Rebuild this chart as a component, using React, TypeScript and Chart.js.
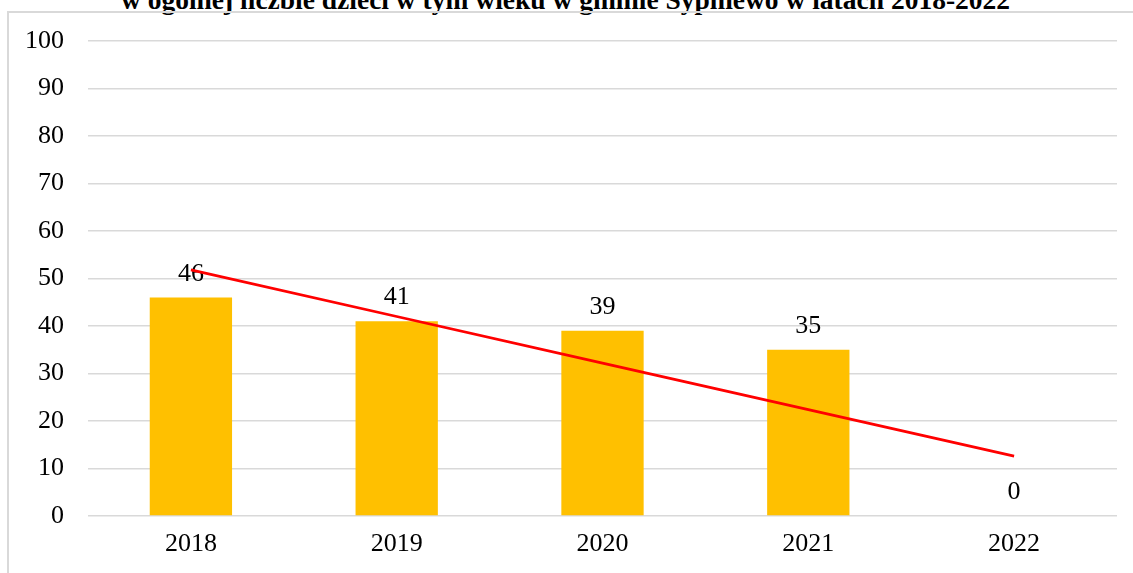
import React, { useEffect, useRef } from "react";
import { Chart, registerables } from "chart.js";

Chart.register(...registerables);

const TITLE = "w ogólnej liczbie dzieci w tym wieku w gminie Sypniewo w latach 2018-2022";
const years = ["2018", "2019", "2020", "2021", "2022"];
const values = [46, 41, 39, 35, 0];
const trend = [51.8, 42, 32.2, 22.4, 12.6];
const yTicks = [0, 10, 20, 30, 40, 50, 60, 70, 80, 90, 100];

const FONT = "'Liberation Serif', 'Times New Roman', serif";

const labelPlugin = {
  id: "barLabels",
  afterDatasetDraw(chart: any, args: any) {
    const ds = chart.data.datasets[args.index];
    if (ds.type !== "bar") return;
    const ctx = chart.ctx;
    ctx.save();
    ctx.font = `26px ${FONT}`;
    ctx.fillStyle = "#000";
    ctx.textAlign = "center";
    ctx.textBaseline = "alphabetic";
    args.meta.data.forEach((el: any, i: number) => {
      ctx.fillText(String(ds.data[i]), el.x, el.y - 17);
    });
    ctx.restore();
  },
};

export default function App() {
  const ref = useRef<HTMLCanvasElement>(null);
  useEffect(() => {
    if (!ref.current) return;
    const chart = new Chart(ref.current, {
      type: "bar",
      data: {
        labels: years,
        datasets: [
          {
            type: "line",
            label: "Trend",
            data: trend,
            borderColor: "#FF0000",
            borderWidth: 2.75,
            pointRadius: 0,
            fill: false,
            tension: 0,
          } as any,
          {
            type: "bar",
            label: "Wartość",
            data: values,
            backgroundColor: "#FFC000",
            barPercentage: 0.4,
            categoryPercentage: 1,
          } as any,
        ],
      },
      options: {
        animation: false,
        responsive: true,
        maintainAspectRatio: false,
        layout: { padding: { left: 0, right: 16, top: 41, bottom: 0 } },
        plugins: {
          legend: { display: false },
          tooltip: { enabled: false },
          title: { display: false },
        },
        scales: {
          x: {
            grid: { display: false, drawTicks: false },
            border: { display: false },
            ticks: { color: "#000", font: { family: FONT, size: 26 }, padding: 13 },
            afterFit: (s: any) => {
              s.height = 57;
            },
          },
          y: {
            min: 0,
            max: 100,
            afterBuildTicks: (s: any) => {
              s.ticks = yTicks.map((v) => ({ value: v }));
            },
            grid: { color: "#d9d9d9", lineWidth: 1.5, drawTicks: false },
            border: { display: false },
            ticks: { color: "#000", font: { family: FONT, size: 26 }, padding: 24 },
            afterFit: (s: any) => {
              s.width = 88;
            },
          },
        },
      },
      plugins: [labelPlugin],
    });
    return () => chart.destroy();
  }, []);

  return (
    <div style={{ position: "fixed", left: 0, top: 0, width: 1133, height: 573, overflow: "hidden", background: "#fff" }}>
      <div
        style={{
          position: "absolute",
          left: 0,
          width: 1131,
          top: -14,
          textAlign: "center",
          font: `bold 27.5px ${FONT}`,
          lineHeight: "27.5px",
          whiteSpace: "nowrap",
          color: "#000",
        }}
      >
        {TITLE}
      </div>
      <div
        style={{
          position: "absolute",
          left: 7,
          top: 11,
          width: 1200,
          height: 700,
          border: "2px solid #d9d9d9",
        }}
      />
      <div style={{ position: "absolute", left: 0, top: 0, width: 1133, height: 573 }}>
        <canvas ref={ref} />
      </div>
    </div>
  );
}
